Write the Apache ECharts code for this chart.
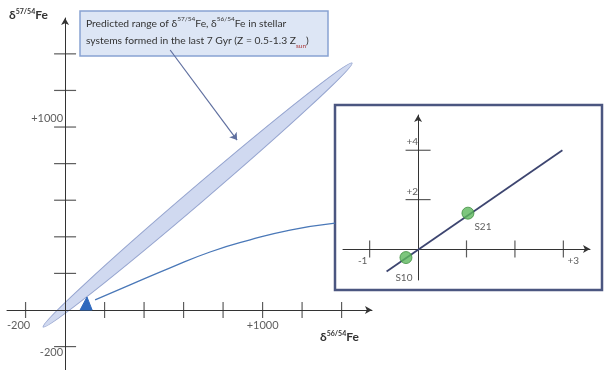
<!DOCTYPE html>
<html><head><meta charset="utf-8">
<script src="https://cdn.jsdelivr.net/npm/echarts@6/dist/echarts.min.js"></script>
<style>html,body{margin:0;padding:0;background:#fff}#c{width:604px;height:370px}</style>
</head><body><div id="c"></div>
<script>
// ---- data ----
const mainXTicks = [-200, 200, 400, 600, 800, 1000, 1200, 1400];
const mainYTicks = [-200, 200, 400, 600, 800, 1000, 1200, 1400];
const mainXLabels = [-200, 1000];
const mainYLabels = [1000, -200];
const ellipseTips = [[-111, -93, 1453, 1350]];
const triangle = [[76, 0], [137, 0], [111, 71]];
const connector = [[152, 55], [329, 137], [532, 230], [734, 317], [937, 383], [1139, 437], [1367, 475]];
const calloutArrow = [[532, 1421], [871, 929]];
const insetXTicks = [-1, 1, 2, 3];
const insetYTicks = [2, 4];
const insetXLabels = [-1, 3];
const insetYLabels = [2, 4];
const insetLine = [[-0.65, -0.92], [2.98, 4.0]];
const sampleNames = ['S10', 'S21'];
const sampleValues = [[-0.25, -0.35], [1.03, 1.45]];

const FONT = 'Lato, "Open Sans", sans-serif';
const AX = '#333';
const fmt = v => (v > 0 ? '+' + v : '' + v);

function axis(min, max, idx) {
  return {
    type: 'value', gridIndex: idx, min: min, max: max,
    axisLine: { show: true, onZero: true, symbol: ['none', 'arrow'], symbolSize: [6, 7],
      lineStyle: { color: AX, width: 1 } },
    axisTick: { show: false }, axisLabel: { show: false }, splitLine: { show: false }
  };
}
function tickSeries(data, xi, size) {
  return { type: 'scatter', xAxisIndex: xi, yAxisIndex: xi, data: data, symbol: 'rect',
    symbolSize: size, itemStyle: { color: AX }, silent: true, z: 5, animation: false };
}
function labelSeries(items, xi, fs) {
  return { type: 'scatter', xAxisIndex: xi, yAxisIndex: xi, symbolSize: 0, silent: true, z: 6,
    animation: false, data: items,
    label: { show: true, color: '#333', fontFamily: FONT, fontSize: fs,
      formatter: p => fmt(p.value[0] !== 0 ? p.value[0] : p.value[1]) } };
}

const chart = echarts.init(document.getElementById('c'), null, { renderer: 'canvas' });
const sub = { fontSize: 7, verticalAlign: 'top', fontFamily: FONT, fill: '#333', fontWeight: 'bold', lineHeight: 8 };
const big = { fontSize: 12, fontFamily: FONT, fill: '#333', fontWeight: 'bold', lineHeight: 15 };
const csub = { fontSize: 6.5, verticalAlign: 'top', fontFamily: FONT, fill: '#333', lineHeight: 7 };
const cbig = { fontSize: 10.3, fontFamily: FONT, fill: '#333', lineHeight: 17 };
const zsub = { fontSize: 6.5, verticalAlign: 'bottom', fontFamily: FONT, fill: '#a33', lineHeight: 11 };

chart.setOption({
  animation: false,
  backgroundColor: '#fff',
  grid: [
    { left: 7, top: 18, width: 365, height: 352 },
    { left: 343, top: 115, width: 247, height: 165 }
  ],
  xAxis: [axis(-294, 1554, 0), axis(-1.55, 3.55, 1)],
  yAxis: [axis(-328, 1596, 0), axis(-1.26, 5.43, 1)],
  graphic: [
    { type: 'rect', shape: { x: 335, y: 105, width: 267, height: 185 },
      style: { fill: '#fff', stroke: '#4b5680', lineWidth: 2.5 }, z: -5 },
    { type: 'rect', shape: { x: 80, y: 11, width: 248, height: 45 },
      style: { fill: '#dde6f5', stroke: '#88a2d2', lineWidth: 1.5 }, z: -5 },
    { type: 'text', x: 86, y: 15, z: -4, style: {
      text: '{t|Predicted range of δ}{s|57/54}{t|Fe, δ}{s|56/54}{t|Fe in stellar}\n{t|systems formed in the last 7 Gyr (Z = 0.5-1.3 Z}{z|sun}{t|)}',
      rich: { t: cbig, s: csub, z: zsub } } },
    { type: 'text', x: 9, y: 8, z: 2, style: {
      text: '{b|δ}{s|57/54}{b|Fe}', rich: { b: big, s: sub } } },
    { type: 'text', x: 320, y: 330, z: 2, style: {
      text: '{b|δ}{s|56/54}{b|Fe}', rich: { b: big, s: sub } } }
  ],
  series: [
    { type: 'custom', xAxisIndex: 0, yAxisIndex: 0, z: -1, silent: true,
      data: ellipseTips, encode: { x: [0, 2], y: [1, 3] },
      renderItem: function (params, api) {
        const p1 = api.coord([api.value(0), api.value(1)]);
        const p2 = api.coord([api.value(2), api.value(3)]);
        const dx = p2[0] - p1[0], dy = p2[1] - p1[1];
        return { type: 'ellipse', x: (p1[0] + p2[0]) / 2, y: (p1[1] + p2[1]) / 2,
          rotation: Math.atan2(-dy, dx),
          shape: { cx: 0, cy: 0, rx: Math.hypot(dx, dy) / 2, ry: 8 },
          style: { fill: '#d0d9f0', stroke: '#95a4cf', lineWidth: 1 } };
      } },
    { type: 'line', xAxisIndex: 0, yAxisIndex: 0, data: connector, smooth: true, showSymbol: false,
      symbol: 'none', lineStyle: { color: '#4a78b8', width: 1.3 }, silent: true, z: 3 },
    { type: 'custom', xAxisIndex: 0, yAxisIndex: 0, z: 4, silent: true,
      data: triangle,
      renderItem: function (params, api) {
        if (params.dataIndex !== 0) return null;
        return { type: 'polygon', shape: { points: triangle.map(p => api.coord(p)) },
          style: { fill: '#2f69bd', stroke: '#2f69bd', lineWidth: 1 } };
      } },
    { type: 'lines', coordinateSystem: 'cartesian2d', xAxisIndex: 0, yAxisIndex: 0, silent: true, z: 3,
      symbol: ['none', 'arrow'], symbolSize: 7,
      lineStyle: { color: '#5f6f9f', width: 1.2, opacity: 1 },
      data: [{ coords: calloutArrow }] },
    tickSeries(mainXTicks.map(v => [v, 0]), 0, [1.2, 16]),
    tickSeries(mainYTicks.map(v => [0, v]), 0, [22, 1.2]),
    labelSeries(mainXLabels.map(v => ({ value: [v, 0],
      label: { position: 'bottom', distance: 10, offset: [v < 0 ? -7 : 0, 0] } })), 0, 11),
    labelSeries(mainYLabels.map(v => ({ value: [0, v],
      label: { position: 'left', distance: 2, offset: [0, v > 0 ? -9 : 6] } })), 0, 11),
    // inset
    { type: 'line', xAxisIndex: 1, yAxisIndex: 1, data: insetLine, showSymbol: false, symbol: 'none',
      lineStyle: { color: '#3d4570', width: 1.8 }, silent: true, z: 3 },
    tickSeries(insetXTicks.map(v => [v, 0]), 1, [1.2, 17]),
    tickSeries(insetYTicks.map(v => [0, v]), 1, [25, 1.2]),
    labelSeries(insetXLabels.map(v => ({ value: [v, 0],
      label: { position: 'bottom', distance: 7, offset: [v < 0 ? -7 : 10, 0] } })), 1, 10),
    labelSeries(insetYLabels.map(v => ({ value: [0, v],
      label: { position: 'left', distance: 0, offset: [0, -8] } })), 1, 10),
    { type: 'scatter', xAxisIndex: 1, yAxisIndex: 1, symbolSize: 12, z: 6, silent: true,
      itemStyle: { color: '#5cb85c', borderColor: '#3f8f3f', borderWidth: 1 },
      data: sampleValues.map((v, i) => ({ value: v, name: sampleNames[i],
        label: { show: true, formatter: '{b}', color: '#333', fontFamily: FONT, fontSize: 10,
          position: 'bottom', distance: i === 0 ? 9 : 2, offset: i === 0 ? [-2, 0] : [15, 0] } })) }
  ]
});
</script></body></html>
